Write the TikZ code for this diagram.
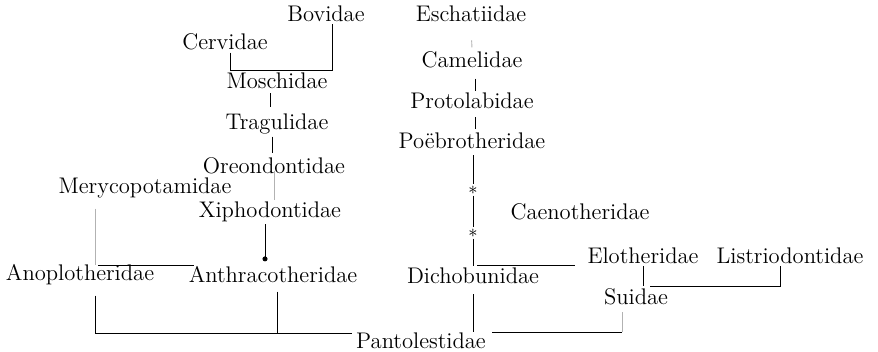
\documentclass[tikz,border=0pt]{standalone}
\usepackage{fontspec}
\usetikzlibrary{arrows.meta}
\tikzset{
  taxon/.style={inner sep=1pt, font=\fontsize{11.3}{13}\selectfont},
  link/.style={line width=0.45pt},
  faint/.style={line width=0.45pt, black!30},
  joint/.style={inner sep=0.5pt, font=\small}
}
\begin{document}
\begin{tikzpicture}[x=0.5pt, y=-0.5pt]
  \useasboundingbox (0,0) rectangle (878,352);

  % Families
  \node[taxon] (bov) at (326,14) {Bovidae};
  \node[taxon] (esc) at (471,14) {Eschatiidae};
  \node[taxon] (cer) at (225,42) {Cervidae};
  \node[taxon] (cam) at (472,60) {Camelidae};
  \node[taxon] (mos) at (277,81) {Moschidae};
  \node[taxon] (pro) at (472,101) {Protolabidae};
  \node[taxon] (tra) at (277,124) {Tragulidae};
  \node[taxon] (poe) at (472,141) {Poëbrotheridae};
  \node[taxon] (ore) at (274,166) {Oreondontidae};
  \node[taxon] (mer) at (145,188) {Merycopotamidae};
  \node[taxon] (xip) at (270,212) {Xiphodontidae};
  \node[taxon] (cae) at (580,212) {Caenotheridae};
  \node[taxon] (elo) at (643,256) {Elotheridae};
  \node[taxon] (lis) at (790,256) {Listriodontidae};
  \node[taxon] (ano) at (80,275) {Anoplotheridae};
  \node[taxon] (ant) at (273,275) {Anthracotheridae};
  \node[taxon] (dic) at (473,276) {Dichobunidae};
  \node[taxon] (sui) at (636,297) {Suidae};
  \node[taxon] (pan) at (421,341) {Pantolestidae};

  % Gaps in the camel line
  \node[joint] (st1) at (473,190) {$\ast$};
  \node[joint] (st2) at (473,233) {$\ast$};

  % Free ends
  \coordinate (mj) at (98,265);
  \coordinate (cj) at (575,265);
  \coordinate (pj) at (352,333);
  \coordinate (sj) at (622,332);

  % Ruminant side
  \draw[link] ([xshift=2.5pt]cer.south) |- ([xshift=3pt]bov.south |- mos.north) -- ([xshift=3pt]bov.south);
  \draw[link, shorten <=1pt, shorten >=2pt] ([xshift=-3.5pt]mos.south) -- ([xshift=-3.5pt]mos.south |- tra.north);
  \draw[link, shorten >=1pt] ([xshift=-2.5pt]tra.south) -- ([xshift=-2.5pt]tra.south |- ore.north);
  \draw[faint, shorten <=-3pt] (ore.south) -- (ore.south |- xip.north);
  \draw[link, -{Circle[length=2.5pt]}, shorten >=1.5pt] ([xshift=-2.5pt]xip.south) -- ([xshift=-2.5pt]xip.south |- ant.north);

  % Merycopotamidae and the anthracotheres
  \draw[faint, shorten <=4pt] ([xshift=-25pt]mer.south) -- ([xshift=-25pt]mer.south |- mj);
  \draw[link] (mj) -- ([xshift=4pt]mj -| ant.west);
  \draw[link, shorten <=4pt] ([xshift=7.5pt]ano.south) |- (pj);
  \draw[link, shorten <=3pt] ([xshift=2pt]ant.south) -- ([xshift=2pt]ant.south |- pj);

  % Camel line
  \draw[faint, shorten <=8pt, shorten >=1pt] (esc.south) -- (cam.north);
  \draw[link, shorten <=4pt] ([xshift=1.5pt]cam.south) -- ([xshift=1.5pt]cam.south |- pro.north);
  \draw[link, shorten <=3pt, shorten >=1pt] ([xshift=1.5pt]pro.south) -- ([xshift=1.5pt]pro.south |- poe.north);
  \draw[link, shorten <=2pt] (poe.south -| st1) -- (st1);
  \draw[link] (st1) -- (st2);
  \draw[link] (st2) -- (st2 |- dic.north);
  \draw[link] ([xshift=2pt]dic.north |- cj) -- (cj);
  \draw[link, shorten <=4pt] (dic.south) -- (dic.south |- sj);

  % Suoid side
  \draw[link] (elo.south) -- (elo.south |- sui.north);
  \draw[link] ([xshift=3.5pt]elo.south |- sui.north) -| ([xshift=-5pt]lis.south);
  \draw[link] ([xshift=2pt]pan.east |- sj) -- (sj);
  \draw[faint, shorten >=2pt] (sj) -- (sj |- sui.south);
\end{tikzpicture}
\end{document}
